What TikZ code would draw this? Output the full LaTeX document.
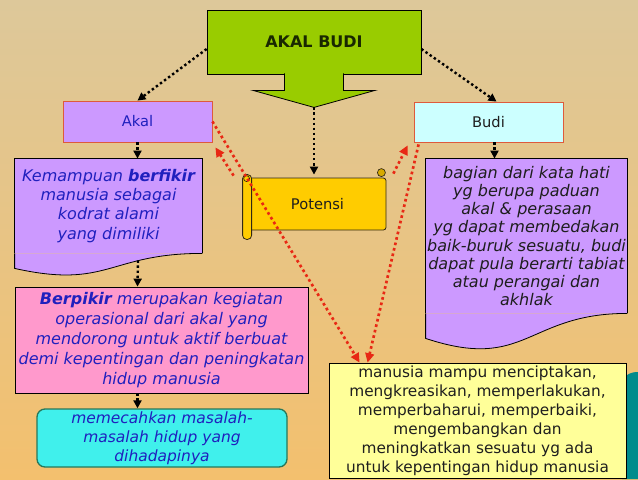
\documentclass[tikz,border=0pt]{standalone}
\usepackage{fontspec}
\setmainfont{DejaVu Sans}
\usepackage{xcolor}
\usepackage{tikz}
\usetikzlibrary{arrows.meta,calc,positioning}

\definecolor{bgtan}{RGB}{221,200,154}
\definecolor{bgorange}{RGB}{243,192,110}
\definecolor{judul}{RGB}{153,204,0}
\definecolor{ungu}{RGB}{204,153,255}
\definecolor{muda}{RGB}{204,255,255}
\definecolor{merahmuda}{RGB}{255,153,204}
\definecolor{toska}{RGB}{64,240,236}
\definecolor{kuning}{RGB}{255,204,0}
\definecolor{krem}{RGB}{255,255,153}
\definecolor{biru}{RGB}{32,32,190}
\definecolor{gelap}{RGB}{30,30,30}
\definecolor{garis}{RGB}{222,90,60}
\definecolor{panah}{RGB}{232,40,20}
\definecolor{hijautua}{RGB}{40,120,90}
\definecolor{tealsudut}{RGB}{0,140,140}
\definecolor{judulteks}{RGB}{25,40,0}
\definecolor{gulung}{RGB}{50,40,20}
\definecolor{kuningtua}{RGB}{215,170,0}

\begin{document}
\begin{tikzpicture}[x=0.75pt, y=-0.75pt,
    kotak/.style={draw, rectangle, inner sep=0pt, align=center, line width=0.6pt},
    kecil/.style={font=\fontsize{11}{13}\selectfont},
    isi/.style={font=\fontsize{12}{14.3}\selectfont\itshape},
    hpanah/.style={draw=black, line width=1.8pt, dash pattern=on 1.8pt off 2pt,
        -{Triangle[length=6pt,width=6pt]}},
    mpanah/.style={draw=panah, line width=2pt, dash pattern=on 2pt off 2.2pt,
        -{Triangle[length=7pt,width=6.5pt]}}]

    % latar
    \useasboundingbox (0,0) rectangle (638,479);
    \shade[shading angle=45, top color=bgtan, bottom color=bgorange] (0,0) rectangle (638,479);
    \fill[tealsudut] (638,372) -- (636,372) .. controls (626,373) and (622,378) .. (622,390)
        -- (622,479) -- (638,479) -- cycle;

    % judul
    \node[kotak, fill=judul, minimum width=160.5pt, minimum height=48pt,
        font=\fontsize{12}{14}\selectfont\bfseries, text=judulteks] (A) at (314,42) {AKAL BUDI};
    \coordinate (At) at ($(A.south)+(0,33)$);
    \filldraw[fill=judul, line width=0.6pt] ($(A.south)+(-29.5,-1)$) -- ($(A.south)+(-29.5,16)$)
        -- ($(A.south)+(-61,16)$) -- (At) -- ($(A.south)+(61,16)$)
        -- ($(A.south)+(29.5,16)$) -- ($(A.south)+(29.5,-1)$);

    \node[kotak, kecil, fill=ungu, draw=garis, minimum width=111.75pt, minimum height=30.75pt,
        text=biru] (Ak) at (137.5,121.5) {Akal};
    \node[kotak, kecil, fill=muda, draw=garis, minimum width=111.75pt, minimum height=30pt,
        text=gelap] (Bu) at (488.5,122) {Budi};

    % kiri
    \node[kotak, isi, draw=none, fill=ungu, minimum width=140.25pt, minimum height=70.5pt,
        text=biru] (Ke) at (108.5,206)
        {Kemampuan \textbf{berfikir}\\manusia sebagai\\kodrat alami\\yang dimiliki};
    \draw[line width=0.6pt] (Ke.south west) -- (Ke.north west) -- (Ke.north east) -- (Ke.south east);
    \filldraw[fill=ungu, line width=0.6pt] (Ke.south east) .. controls (Ke.south) and ($(Ke.south)+(0,36)$)
        .. ($(Ke.south west)+(0,15)$) -- (Ke.south west);

    \node[kotak, isi, font=\fontsize{12}{15}\selectfont\itshape, fill=merahmuda,
        minimum width=219.75pt, minimum height=79.5pt, text=biru] (Be) at (161.5,340)
        {\textbf{Berpikir} merupakan kegiatan\\operasional dari akal yang\\mendorong untuk aktif berbuat\\demi kepentingan dan peningkatan\\hidup manusia};

    \node[kotak, isi, font=\fontsize{11.6}{14.3}\selectfont\itshape, fill=toska, draw=hijautua,
        line width=1pt, rounded corners=6pt, minimum width=187.5pt, minimum height=43.5pt,
        text=biru] (Me) at (162,438)
        {memecahkan masalah-\\masalah hidup yang\\dihadapinya};

    % kanan
    \node[kotak, isi, font=\fontsize{12}{13.7}\selectfont\itshape, draw=none, fill=ungu,
        minimum width=150.75pt, minimum height=115.5pt, text=gelap] (Ba) at (526.5,236)
        {bagian dari kata hati\\yg berupa paduan\\akal \& perasaan\\yg dapat membedakan\\baik-buruk sesuatu, budi\\dapat pula berarti tabiat\\atau perangai dan\\akhlak};
    \draw[line width=0.6pt] (Ba.south west) -- (Ba.north west) -- (Ba.north east) -- (Ba.south east);
    \filldraw[fill=ungu, line width=0.6pt] (Ba.south east) .. controls (Ba.south) and ($(Ba.south)+(0,58.5)$)
        .. ($(Ba.south west)+(0,25)$) -- (Ba.south west);

    \node[kotak, font=\fontsize{11.5}{14.2}\selectfont, fill=krem, minimum width=222.75pt,
        minimum height=86.25pt, text=gelap] (Ma) at (477.5,420.5)
        {manusia mampu menciptakan,\\mengkreasikan, memperlakukan,\\memperbaharui, memperbaiki,\\mengembangkan dan\\meningkatkan sesuatu yg ada\\untuk kepentingan hidup manusia};

    % potensi
    \node[kotak, kecil, fill=kuning, draw=gulung, rounded corners=2pt,
        minimum width=102.75pt, minimum height=39pt, text=gelap] (Po) at (317.5,204) {Potensi};
    \filldraw[fill=kuning, draw=gulung, line width=0.6pt, rounded corners=3pt]
        ($(Po.north west)+(-6,-3)$) rectangle ($(Po.south west)+(3,9)$);
    \filldraw[fill=kuning, draw=gulung, line width=0.5pt]
        ($(Po.north west)+(-2,1)$) circle (2.2pt);
    \filldraw[fill=kuningtua, draw=gulung, line width=0.5pt]
        ($(Po.north east)+(-5,-5)$) circle (3pt);

    % panah hitam
    \draw[hpanah] ($(A.west)+(0,7)$) -- (Ak.north);
    \draw[hpanah] ($(A.east)+(0,7)$) -- ($(Bu.north)+(8,0)$);
    \draw[hpanah] (At) -- ($(At |- Po.north)+(0,-3)$);
    \draw[hpanah] (Ak.south) -- (Ak.south |- Ke.north);
    \draw[hpanah] ($(Bu.south)+(6,0)$) -- ($(Bu.south |- Ba.north)+(6,0)$);
    \draw[hpanah] ($(Ke.south)+(29.5,7)$) -- (Ak.south |- Be.north);
    \draw[hpanah] (Ak.south |- Be.south) -- (Ak.south |- Me.north);

    % panah merah
    \draw[mpanah] (Ak.east) -- ($(Ma.north west)+(31,0)$);
    \draw[mpanah] ($(Po.north west)+(-15,-2)$) -- ($(Ak.south east)+(3,5)$);
    \draw[mpanah] ($(Po.north east)+(7,-4)$) -- ($(Bu.south west)+(-6,3)$);
    \draw[mpanah] ($(Bu.south west)+(5,2)$) -- ($(Ma.north west)+(39,0)$);
\end{tikzpicture}
\end{document}
